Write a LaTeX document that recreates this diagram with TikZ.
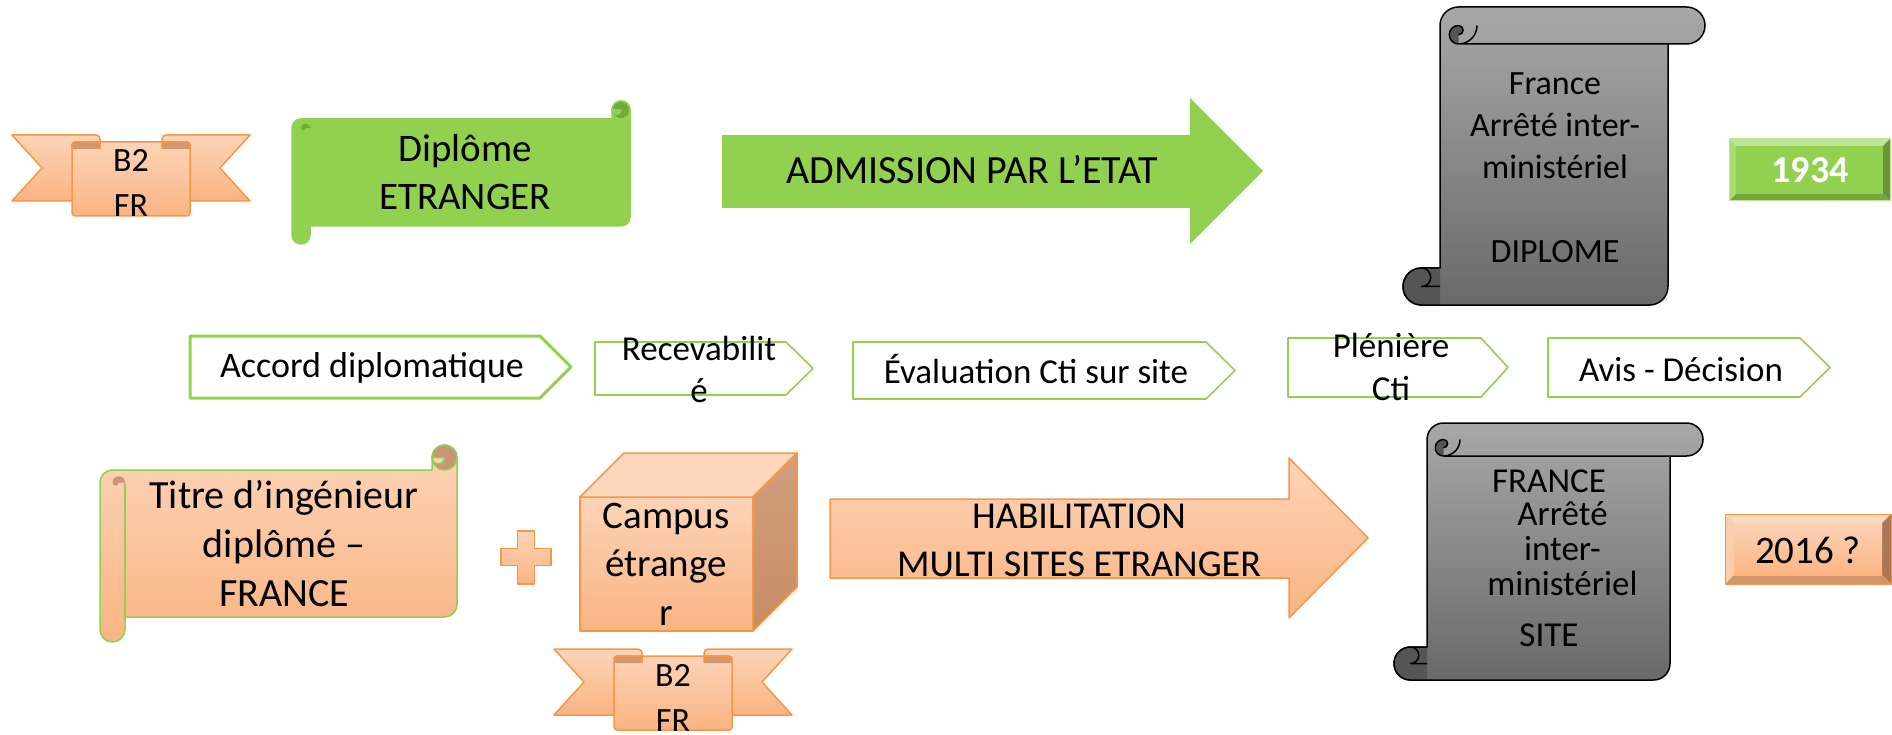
\documentclass[tikz,border=0pt]{standalone}
\usepackage{fontspec}
\setmainfont{Carlito}
\definecolor{grn}{RGB}{146,208,80}
\definecolor{grnd}{RGB}{112,170,55}
\definecolor{otop}{RGB}{252,212,184}
\definecolor{obot}{RGB}{250,180,130}
\definecolor{oline}{RGB}{247,150,70}
\definecolor{ocurl}{RGB}{200,150,118}
\definecolor{fold}{RGB}{212,152,112}
\definecolor{gtop}{RGB}{168,168,168}
\definecolor{gbot}{RGB}{105,105,105}
\definecolor{gcurl}{RGB}{85,85,85}
\definecolor{ctop}{RGB}{253,215,188}
\definecolor{crt}{RGB}{208,160,125}
\definecolor{crb}{RGB}{200,140,100}
\definecolor{bgT}{RGB}{190,228,150}
\definecolor{bgL}{RGB}{170,218,118}
\definecolor{bgR}{RGB}{105,150,55}
\definecolor{bgB}{RGB}{118,168,62}
\definecolor{boT}{RGB}{253,218,190}
\definecolor{boL}{RGB}{252,205,170}
\definecolor{boR}{RGB}{170,120,85}
\definecolor{boB}{RGB}{210,150,105}

\begin{document}
\begin{tikzpicture}[x=1pt,y=-1pt,line width=1.5pt,line join=round,
  ofill/.style={top color=otop,bottom color=obot,draw=oline},
  vs/.style={top color=gtop,bottom color=gbot,draw=black},
  hsA/.style={fill=grn,draw=grn},
  hsB/.style={top color=otop,bottom color=obot,draw=grn},
  fs/.style 2 args={font=\fontsize{#1}{#2}\selectfont},
  txt/.style={inner sep=0pt,align=center,anchor=base}]
\useasboundingbox (0,0) rectangle (1892,735);
% horizontal scrolls
\foreach \xl/\yt/\xr/\yb/\dd/\sty/\cc/\nc in {292/101/630/244/18/hsA/grnd/grn, 100/445/457/642/25/hsB/ocurl/otop}{
  \pgfmathsetmacro\hh{\dd/2}
  \draw[\sty] (\xl,\yt+\dd+\hh) arc[start angle=180,end angle=270,radius=\hh] -- (\xr-\dd,\yt+\dd) -- (\xr-\dd,\yt+\hh)
    arc[start angle=180,end angle=360,radius=\hh] -- (\xr,\yb-\dd-\hh) arc[start angle=0,end angle=90,radius=\hh]
    -- (\xl+\dd,\yb-\dd) -- (\xl+\dd,\yb-\hh) arc[start angle=0,end angle=180,radius=\hh] -- cycle;
  \filldraw[fill=\cc,draw=grn] (\xr-\hh,\yt+\hh) circle[radius=\hh];
  \filldraw[fill=\nc,draw=grn] (\xr-\dd,\yt+\hh) arc[start angle=180,end angle=0,radius=\hh/2] -- cycle;
  \fill[\cc] (\xl+\dd,\yt+\dd+\hh) arc[start angle=0,end angle=-180,radius=\hh/2] arc[start angle=180,end angle=0,radius=\hh/4] -- cycle;
  \draw[grn] (\xl+\dd,\yt+\dd+\hh) -- (\xl+\dd,\yb-\dd);
}
% vertical scrolls
\foreach \xl/\yt/\xr/\yb/\dd in {1403/7/1705/305/37, 1394/423/1703/680/33}{
  \pgfmathsetmacro\hh{\dd/2}
  \draw[vs] (\xl+\dd,\yt+\hh) arc[start angle=180,end angle=270,radius=\hh] -- (\xr-\hh,\yt)
    arc[start angle=270,end angle=450,radius=\hh] -- (\xr-\dd,\yt+\dd) -- (\xr-\dd,\yb-\hh)
    arc[start angle=0,end angle=90,radius=\hh] -- (\xl+\hh,\yb) arc[start angle=90,end angle=270,radius=\hh]
    -- (\xl+\dd,\yb-\dd) -- cycle;
  \draw (\xl+\dd+\hh,\yt+\dd) -- (\xr-\dd,\yt+\dd) (\xl+\dd+\dd,\yt+\hh) arc[start angle=0,end angle=90,radius=\hh];
  \filldraw[fill=gcurl] (\xl+\dd+\hh,\yt+\dd) arc[start angle=90,end angle=270,radius=\hh/2] arc[start angle=270,end angle=450,radius=\hh/4];
  \filldraw[fill=gcurl] (\xl+\dd,\yb-\dd) -- (\xl+\hh,\yb-\dd) arc[start angle=270,end angle=90,radius=\hh] -- (\xl+\dd,\yb);
  \draw (\xl+\hh,\yb-\dd) arc[start angle=270,end angle=450,radius=\hh/2] -- (\xl+\dd,\yb-\hh);
}
% ribbons
\foreach \x/\y/\n in {12/135/rbA, 554/649/rbB}{
  \filldraw[ofill] (\x,\y) -- (\x+84,\y) arc[start angle=270,end angle=360,radius=4] -- (\x+88,\y+66) -- (\x,\y+66) -- (\x+30,\y+33) -- cycle
    (\x+238,\y) -- (\x+154,\y) arc[start angle=270,end angle=180,radius=4] -- (\x+150,\y+66) -- (\x+238,\y+66) -- (\x+208,\y+33) -- cycle;
  \filldraw[ofill,rounded corners=3] (\x+60,\y+7) rectangle (\x+178,\y+81);
  \filldraw[fill=fold,draw=oline] (\x+60,\y+14) -- (\x+60,\y+10) arc[start angle=180,end angle=270,radius=3] -- (\x+88,\y+7) -- (\x+88,\y+14)
    (\x+178,\y+14) -- (\x+178,\y+10) arc[start angle=0,end angle=-90,radius=3] -- (\x+150,\y+7) -- (\x+150,\y+14);
  \begin{scope}
    \clip (\x+60,\y+7) rectangle (\x+178,\y+81);
    \node[txt,fs={34}{45}] (\n) at (\x+119,\y+82) {B2\\FR};
  \end{scope}
}
% arrows, cube, plus
\fill[grn] (722,135) -- (1190,135) -- (1190,98) -- (1263,171) -- (1190,244) -- (1190,208) -- (722,208) -- cycle;
\filldraw[ofill] (830,499) -- (1289,499) -- (1289,458) -- (1368,538) -- (1289,618) -- (1289,578) -- (830,578) -- cycle;
\filldraw[ofill] (580,497) rectangle (753,631);
\filldraw[draw=oline,fill=ctop] (580,497) -- (624,453) -- (797,453) -- (753,497) -- cycle;
\filldraw[draw=oline,top color=crt,bottom color=crb] (753,497) -- (797,453) -- (797,587) -- (753,631) -- cycle;
\filldraw[ofill] (517.5,531) -- (534.5,531) -- (534.5,548.5) -- (551,548.5) -- (551,565.5) -- (534.5,565.5) -- (534.5,584)
  -- (517.5,584) -- (517.5,565.5) -- (501,565.5) -- (501,548.5) -- (517.5,548.5) -- cycle;
% chevrons
\foreach \xa/\ya/\xb/\xc/\yb/\w in {190/336/540/571/398/3, 595/342/786/813/395/1.6, 853/342/1206/1235/399/1.6, 1288/338/1481/1508/397/1.6, 1548/338/1800/1830/397/1.6}
  \draw[grn,line width=\w] (\xa,\ya) -- (\xb,\ya) -- (\xc,{(\ya+\yb)/2}) -- (\xb,\yb) -- (\xa,\yb) -- cycle;
% bevel boxes
\fill[bgT] (1729,139) -- (1890,139) -- (1883,146) -- (1736,146) -- cycle;
\fill[bgL] (1729,139) -- (1736,146) -- (1736,194) -- (1729,201) -- cycle;
\fill[bgR] (1890,139) -- (1890,201) -- (1883,194) -- (1883,146) -- cycle;
\fill[bgB] (1729,201) -- (1890,201) -- (1883,194) -- (1736,194) -- cycle;
\fill[grn] (1736,146) rectangle (1883,194);
\draw[bgT,line width=1pt] (1729,139) rectangle (1890,201);
\fill[boT] (1725,514) -- (1891,514) -- (1882,523) -- (1734,523) -- cycle;
\fill[boL] (1725,514) -- (1734,523) -- (1734,575) -- (1725,584) -- cycle;
\fill[boR] (1891,514) -- (1891,584) -- (1882,575) -- (1882,523) -- cycle;
\fill[boB] (1725,584) -- (1891,584) -- (1882,575) -- (1734,575) -- cycle;
\shade[top color=otop,bottom color=obot] (1734,523) rectangle (1882,575);
\draw[oline,line width=1pt] (1725,514) rectangle (1891,584);
% texts (base = last line)
\node[txt,fs={39}{48}] (dipl) at (465,210) {Diplôme\\ETRANGER};
\node[txt,fs={40}{48}] (adm) at (972,184) {ADMISSION PAR L’ETAT};
\node[txt,fs={34}{42}] (fra) at (1555,262) {France\\Arrêté inter-\\ministériel\\[42pt]DIPLOME};
\node[txt,font=\fontsize{38}{46}\selectfont\bfseries,text=white] (y34) at (1810,183) {1934};
\node[txt,fs={36}{42}] (accord) at (372,377) {Accord diplomatique};
\node[txt,fs={35}{42}] (recev) at (699,402) {Recevabilit\\é};
\node[txt,fs={35}{42}] (evalu) at (1036,383) {Évaluation Cti sur site};
\node[txt,fs={35}{43}] (pleni) at (1391,400) {Plénière\\Cti};
\node[txt,fs={35}{42}] (avis) at (1681,381) {Avis - Décision};
\node[txt,fs={40}{49}] (titre) at (284,606) {Titre d’ingénieur\\diplômé –\\FRANCE};
\node[txt,fs={39}{48.5}] (campus) at (666,625) {Campus\\étrange\\r};
\node[txt,fs={38}{48}] (habil) at (1079,576) {HABILITATION\\MULTI SITES ETRANGER};
\node[txt,fs={35}{35}] (franB) at (1549,492) {FRANCE};
\node[txt,fs={35}{35}] (arrete) at (1562.5,595) {Arrêté\\inter-\\ministériel};
\node[txt,fs={35}{35}] (site) at (1549,646) {SITE};
\node[txt,fs={39}{46}] (y16) at (1808,563) {2016 ?};
\end{tikzpicture}
\end{document}
